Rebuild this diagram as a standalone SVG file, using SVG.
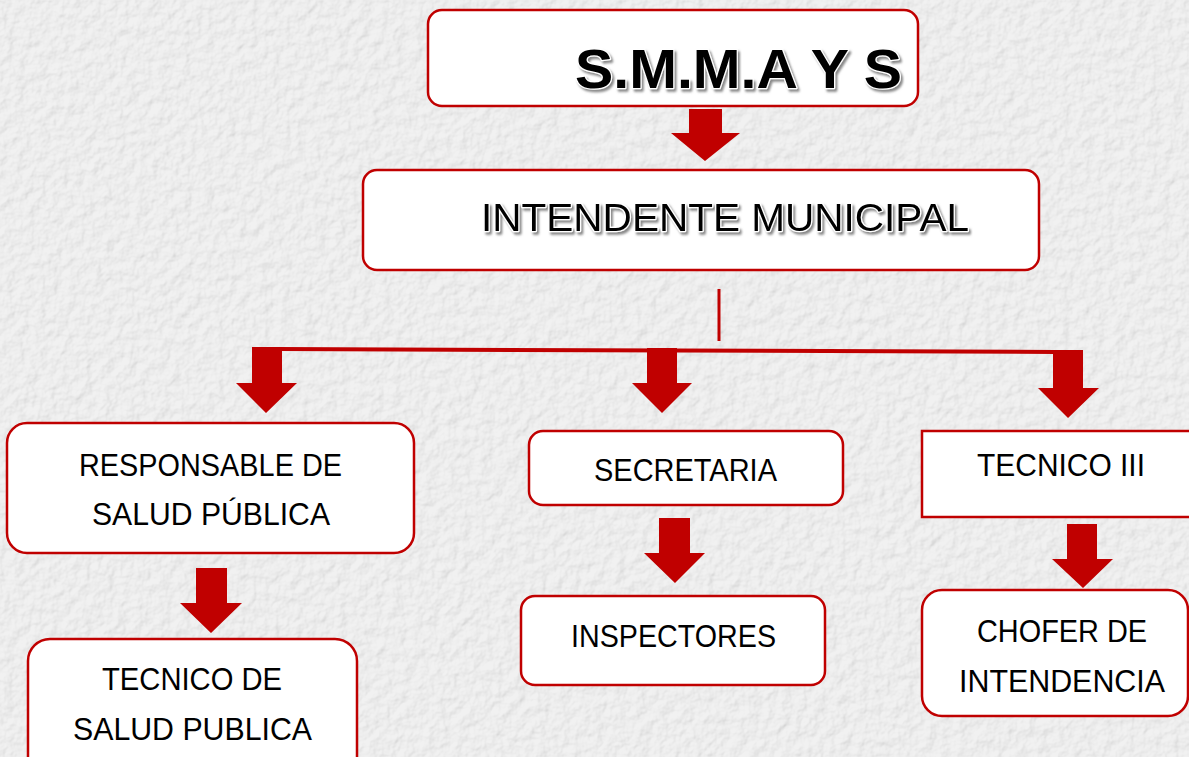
<svg xmlns="http://www.w3.org/2000/svg" width="1189" height="757" viewBox="0 0 1189 757">
<defs>
<filter id="paper" x="0" y="0" width="100%" height="100%" filterUnits="userSpaceOnUse">
<feTurbulence type="fractalNoise" baseFrequency="0.09" numOctaves="3" seed="7" result="n"/>
<feDiffuseLighting in="n" lighting-color="#ffffff" surfaceScale="1.6" diffuseConstant="1.05">
<feDistantLight azimuth="225" elevation="62"/>
</feDiffuseLighting>
</filter>
<filter id="shadow" x="-5%" y="-20%" width="110%" height="150%">
<feDropShadow dx="2" dy="2.5" stdDeviation="0.8" flood-color="#7a7a7a" flood-opacity="0.9"/>
</filter>
<style>
.box{fill:#ffffff;stroke:#c00000;stroke-width:2.5}
.arr{fill:#c00000;stroke:none}
.ln{stroke:#c00000;fill:none}
.t{font-family:"Liberation Sans",Arial,sans-serif;font-size:32px;fill:#000000}
.title{font-family:"Liberation Sans",Arial,sans-serif;fill:#000000;stroke:#ffffff;stroke-width:2.5;paint-order:stroke;stroke-linejoin:round;filter:url(#shadow)}
</style>
</defs>
<rect x="0" y="0" width="1189" height="757" fill="#e2e2e2"/>
<rect x="0" y="0" width="1189" height="757" filter="url(#paper)" opacity="0.55"/>

<g id="connectors">
<line class="ln" x1="719" y1="289" x2="719" y2="341" stroke-width="3"/>
<line class="ln" x1="280" y1="349" x2="1055" y2="352" stroke-width="4"/>
<polygon class="arr" points="689,109 722,109 722,133 740,133 705,161 671,133 689,133"/>
<polygon class="arr" points="252,347 282,347 282,383 297,383 266,413 236,383 252,383"/>
<polygon class="arr" points="647,348 677,348 677,383 692,383 662,413 632,383 647,383"/>
<polygon class="arr" points="1053,350 1083,350 1083,388 1099,388 1068,418 1038,388 1053,388"/>
<polygon class="arr" points="196,568 227,568 227,603 242,603 211,633 180,603 196,603"/>
<polygon class="arr" points="659,518 690,518 690,553 705,553 675,583 644,553 659,553"/>
<polygon class="arr" points="1067,524 1097,524 1097,559 1113,559 1083,588 1052,559 1067,559"/>
</g>

<g id="smmays">
<rect class="box" x="428" y="10" width="490" height="96" rx="14"/>
<text class="title" x="575" y="88" font-size="56" font-weight="bold" textLength="327" lengthAdjust="spacingAndGlyphs">S.M.M.A Y S</text>
</g>

<g id="intendente">
<rect class="box" x="363" y="170" width="676" height="100" rx="14"/>
<text class="title" x="481" y="231" font-size="39" textLength="488" lengthAdjust="spacingAndGlyphs">INTENDENTE MUNICIPAL</text>
</g>

<g id="responsable">
<rect class="box" x="7" y="423" width="407" height="130" rx="20"/>
<text class="t" x="79" y="476" textLength="263" lengthAdjust="spacingAndGlyphs">RESPONSABLE DE</text>
<text class="t" x="92" y="525" textLength="238" lengthAdjust="spacingAndGlyphs">SALUD PÚBLICA</text>
</g>

<g id="tecnico-salud">
<rect class="box" x="28" y="639" width="329" height="140" rx="22"/>
<text class="t" x="102" y="690" textLength="180" lengthAdjust="spacingAndGlyphs">TECNICO DE</text>
<text class="t" x="73" y="740" textLength="239" lengthAdjust="spacingAndGlyphs">SALUD PUBLICA</text>
</g>

<g id="secretaria">
<rect class="box" x="529" y="431" width="314" height="74" rx="14"/>
<text class="t" x="594" y="481" textLength="183" lengthAdjust="spacingAndGlyphs">SECRETARIA</text>
</g>

<g id="inspectores">
<rect class="box" x="521" y="596" width="304" height="89" rx="14"/>
<text class="t" x="571" y="647" textLength="205" lengthAdjust="spacingAndGlyphs">INSPECTORES</text>
</g>

<g id="tecnico-iii">
<rect class="box" x="922" y="431" width="280" height="86"/>
<text class="t" x="977" y="476" textLength="168" lengthAdjust="spacingAndGlyphs">TECNICO III</text>
</g>

<g id="chofer">
<rect class="box" x="922" y="590" width="266" height="126" rx="20"/>
<text class="t" x="977" y="642" textLength="170" lengthAdjust="spacingAndGlyphs">CHOFER DE</text>
<text class="t" x="959" y="692" textLength="206" lengthAdjust="spacingAndGlyphs">INTENDENCIA</text>
</g>
</svg>
